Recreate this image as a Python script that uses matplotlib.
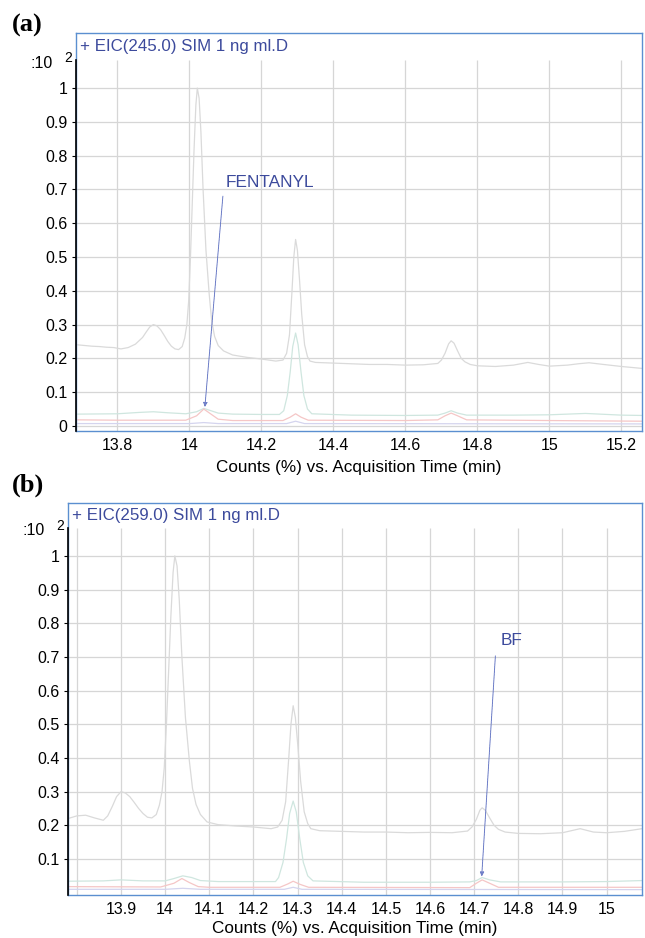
import matplotlib.pyplot as plt

plt.rcParams['font.family'] = ['Liberation Sans', 'DejaVu Sans']

# ---- panel (a) : EIC 245 ----
ta = [13.69, 13.71, 13.73, 13.75, 13.77, 13.79, 13.81, 13.83, 13.85, 13.87,
      13.88, 13.89, 13.90, 13.91, 13.92, 13.93, 13.94, 13.95, 13.96, 13.97,
      13.98, 13.987, 13.993, 13.998, 14.003, 14.008, 14.013, 14.018, 14.022, 14.027,
      14.032, 14.038, 14.046, 14.055, 14.062, 14.07, 14.08, 14.095, 14.12, 14.16,
      14.20, 14.24, 14.26, 14.27, 14.278, 14.285, 14.29, 14.295, 14.30, 14.306,
      14.312, 14.32, 14.328, 14.335, 14.35, 14.40, 14.45, 14.50, 14.55, 14.60,
      14.65, 14.69, 14.70, 14.71, 14.72, 14.727, 14.735, 14.745, 14.755, 14.765,
      14.78, 14.80, 14.85, 14.90, 14.94, 14.97, 15.00, 15.05, 15.08, 15.11,
      15.15, 15.20, 15.26]
gray_a = [0.240, 0.238, 0.236, 0.235, 0.233, 0.232, 0.228, 0.232, 0.242, 0.262,
          0.278, 0.293, 0.300, 0.296, 0.285, 0.268, 0.250, 0.236, 0.228, 0.226,
          0.235, 0.260, 0.300, 0.370, 0.500, 0.660, 0.820, 0.950, 1.000, 0.970,
          0.870, 0.700, 0.520, 0.390, 0.310, 0.265, 0.238, 0.222, 0.210, 0.203,
          0.198, 0.192, 0.195, 0.215, 0.270, 0.400, 0.500, 0.552, 0.520, 0.430,
          0.330, 0.240, 0.205, 0.192, 0.188, 0.186, 0.184, 0.182, 0.182, 0.180,
          0.181, 0.185, 0.195, 0.215, 0.243, 0.252, 0.245, 0.222, 0.200, 0.190,
          0.182, 0.178, 0.176, 0.180, 0.188, 0.182, 0.177, 0.180, 0.184, 0.187,
          0.182, 0.176, 0.170]

tt_a = [13.69, 13.80, 13.86, 13.90, 13.94, 13.99, 14.02, 14.04, 14.06, 14.08,
        14.12, 14.20, 14.25, 14.262, 14.272, 14.28, 14.287, 14.295, 14.302, 14.31,
        14.318, 14.328, 14.34, 14.45, 14.60, 14.69, 14.71, 14.727, 14.745, 14.77,
        14.90, 15.00, 15.10, 15.20, 15.26]
teal_a = [0.035, 0.036, 0.040, 0.042, 0.039, 0.036, 0.042, 0.052, 0.045, 0.038,
          0.035, 0.034, 0.034, 0.045, 0.090, 0.160, 0.235, 0.275, 0.240, 0.160,
          0.090, 0.050, 0.036, 0.032, 0.031, 0.032, 0.038, 0.045, 0.038, 0.032,
          0.032, 0.033, 0.037, 0.032, 0.031]

tp_a = [13.69, 13.80, 13.99, 14.02, 14.04, 14.06, 14.08, 14.12, 14.26, 14.28,
        14.295, 14.31, 14.33, 14.60, 14.69, 14.71, 14.727, 14.745, 14.77, 15.00,
        15.26]
pink_a = [0.018, 0.017, 0.017, 0.030, 0.050, 0.035, 0.020, 0.016, 0.016, 0.026,
          0.036, 0.026, 0.017, 0.016, 0.018, 0.030, 0.038, 0.030, 0.018, 0.016,
          0.014]

tl_a = [13.69, 14.00, 14.04, 14.08, 14.27, 14.295, 14.32, 15.26]
lav_a = [0.007, 0.007, 0.010, 0.007, 0.007, 0.014, 0.007, 0.006]

# ---- panel (b) : EIC 259 ----
tb = [13.78, 13.80, 13.82, 13.84, 13.86, 13.87, 13.88, 13.89, 13.90, 13.91,
      13.92, 13.93, 13.94, 13.95, 13.96, 13.97, 13.98, 13.987, 13.993, 13.998,
      14.003, 14.008, 14.013, 14.018, 14.022, 14.027, 14.032, 14.038, 14.046, 14.055,
      14.062, 14.07, 14.08, 14.095, 14.12, 14.16, 14.20, 14.24, 14.255, 14.265,
      14.273, 14.28, 14.285, 14.29, 14.295, 14.301, 14.307, 14.315, 14.323, 14.33,
      14.35, 14.40, 14.45, 14.50, 14.55, 14.60, 14.65, 14.685, 14.695, 14.705,
      14.713, 14.718, 14.725, 14.735, 14.745, 14.755, 14.77, 14.80, 14.85, 14.90,
      14.94, 14.97, 15.00, 15.04, 15.08]
gray_b = [0.220, 0.228, 0.230, 0.222, 0.215, 0.228, 0.255, 0.285, 0.300, 0.296,
          0.285, 0.268, 0.250, 0.235, 0.224, 0.222, 0.232, 0.260, 0.300, 0.370,
          0.500, 0.660, 0.820, 0.950, 1.000, 0.970, 0.870, 0.700, 0.520, 0.390,
          0.310, 0.262, 0.232, 0.210, 0.202, 0.198, 0.195, 0.190, 0.195, 0.215,
          0.270, 0.400, 0.500, 0.555, 0.520, 0.430, 0.330, 0.240, 0.205, 0.190,
          0.184, 0.182, 0.180, 0.180, 0.178, 0.179, 0.178, 0.183, 0.195, 0.218,
          0.245, 0.252, 0.245, 0.222, 0.200, 0.188, 0.180, 0.176, 0.175, 0.178,
          0.190, 0.180, 0.178, 0.182, 0.190]

tt_b = [13.78, 13.86, 13.90, 13.95, 14.00, 14.02, 14.04, 14.06, 14.08, 14.12,
        14.25, 14.257, 14.267, 14.275, 14.282, 14.29, 14.297, 14.305, 14.313, 14.323,
        14.335, 14.45, 14.60, 14.69, 14.705, 14.718, 14.735, 14.76, 14.90, 15.00,
        15.08]
teal_b = [0.034, 0.035, 0.038, 0.035, 0.035, 0.042, 0.050, 0.045, 0.036, 0.033,
          0.033, 0.045, 0.090, 0.160, 0.235, 0.272, 0.240, 0.160, 0.090, 0.050,
          0.035, 0.031, 0.031, 0.032, 0.036, 0.045, 0.038, 0.032, 0.032, 0.033,
          0.036]

tp_b = [13.78, 13.99, 14.02, 14.038, 14.055, 14.075, 14.10, 14.26, 14.278, 14.29,
        14.305, 14.325, 14.69, 14.705, 14.718, 14.735, 14.755, 15.08]
pink_b = [0.018, 0.017, 0.028, 0.042, 0.030, 0.018, 0.016, 0.016, 0.026, 0.034,
          0.025, 0.016, 0.015, 0.028, 0.038, 0.028, 0.016, 0.016]

tl_b = [13.78, 14.00, 14.04, 14.08, 14.27, 14.29, 14.31, 15.08]
lav_b = [0.010, 0.010, 0.013, 0.010, 0.010, 0.016, 0.010, 0.009]

xt_a = [13.8, 14, 14.2, 14.4, 14.6, 14.8, 15, 15.2]
xl_a = ['13.8', '14', '14.2', '14.4', '14.6', '14.8', '15', '15.2']
yt_a = [0, 0.1, 0.2, 0.3, 0.4, 0.5, 0.6, 0.7, 0.8, 0.9, 1.0]
yl_a = ['0', '0.1', '0.2', '0.3', '0.4', '0.5', '0.6', '0.7', '0.8', '0.9', '1']
xt_b = [13.8, 13.9, 14, 14.1, 14.2, 14.3, 14.4, 14.5, 14.6, 14.7, 14.8, 14.9, 15]
xl_b = ['', '13.9', '14', '14.1', '14.2', '14.3', '14.4', '14.5', '14.6', '14.7',
        '14.8', '14.9', '15']
yt_b = yt_a[1:]
yl_b = yl_a[1:]

FRAME = '#5b8fd0'
TXT = '#3c4a9c'
GRID = '#d6d6d6'
GRID_TOP = 1.083
C_GRAY, C_TEAL, C_PINK, C_LAV = '#dadada', '#cfe6df', '#f5c6c6', '#d4d4ee'


def panel(ax, wpx, xlim, ylim, xt, xl, yt, yl, title, traces, ann, lpad):
    ax.set_xlim(*xlim)
    ax.set_ylim(*ylim)
    for s in ax.spines.values():
        s.set_color(FRAME)
        s.set_linewidth(1.0)
    # grid
    for y in yt:
        ax.plot(xlim, [y, y], color=GRID, lw=0.9, zorder=0)
    ax.vlines(xt, ylim[0], GRID_TOP, color=GRID, lw=0.9, zorder=0)
    # black axis line on left
    ax.plot([xlim[0], xlim[0]], [ylim[0], GRID_TOP], color='black', lw=1.2,
            clip_on=False, zorder=3)
    for t, v, c in traces:
        ax.plot(t, v, color=c, lw=0.9, zorder=2)
    ax.set_xticks(xt)
    ax.set_xticklabels(xl)
    ax.set_yticks(yt)
    ax.set_yticklabels(yl)
    ax.tick_params(axis='x', length=0, labelsize=11.5, pad=5)
    ax.tick_params(axis='y', length=3, width=0.8, labelsize=11.5, pad=3,
                   color='black')
    ax.set_xlabel('Counts (%) vs. Acquisition Time (min)', fontsize=12.3,
                  labelpad=lpad)
    ax.text(4 / wpx, 0.986, title, transform=ax.transAxes, color=TXT,
            fontsize=12.2, va='top', ha='left')
    ytr = ax.get_yaxis_transform()
    ax.text(-23 / wpx, 1.074, ':10', transform=ytr, ha='right', va='center',
            fontsize=11.5)
    ax.text(-12 / wpx, 1.089, '2', transform=ytr, ha='left', va='center',
            fontsize=10)
    label, (tx, ty), (lx, ly), (px, py) = ann
    ax.annotate('', xy=(px, py), xytext=(lx, ly),
                arrowprops=dict(arrowstyle='-|>,head_length=0.25,head_width=0.12',
                                color='#7080c8', lw=0.7, linestyle=(0, (1, 0.6)),
                                shrinkA=0, shrinkB=0))
    ax.text(tx, ty, label, color=TXT, fontsize=12.4, ha='left', va='center')


fig = plt.figure(figsize=(6.45, 9.38), dpi=100)
ax1 = fig.add_axes([0.1178, 0.5405, 0.8775, 0.4243])
ax2 = fig.add_axes([0.1054, 0.0458, 0.8899, 0.4180])

panel(ax1, 566, (13.685, 15.257), (-0.015, 1.163), xt_a, xl_a, yt_a, yl_a,
      '+ EIC(245.0) SIM 1 ng ml.D',
      [(ta, gray_a, C_GRAY), (tt_a, teal_a, C_TEAL),
       (tp_a, pink_a, C_PINK), (tl_a, lav_a, C_LAV)],
      ('FENTANYL', (14.102, 0.72), (14.093, 0.68), (14.043, 0.056)), 5)
panel(ax2, 574, (13.78, 15.08), (-0.007, 1.157), xt_b, xl_b, yt_b, yl_b,
      '+ EIC(259.0) SIM 1 ng ml.D',
      [(tb, gray_b, C_GRAY), (tt_b, teal_b, C_TEAL),
       (tp_b, pink_b, C_PINK), (tl_b, lav_b, C_LAV)],
      ('BF', (14.759, 0.748), (14.748, 0.703), (14.717, 0.048)), 3)

fig.text(0.018, 0.973, '(a)', fontsize=19, fontweight='bold',
         family='Liberation Serif', ha='left', va='center')
fig.text(0.018, 0.483, '(b)', fontsize=19, fontweight='bold',
         family='Liberation Serif', ha='left', va='center')

fig.savefig('out.png', dpi=100)
